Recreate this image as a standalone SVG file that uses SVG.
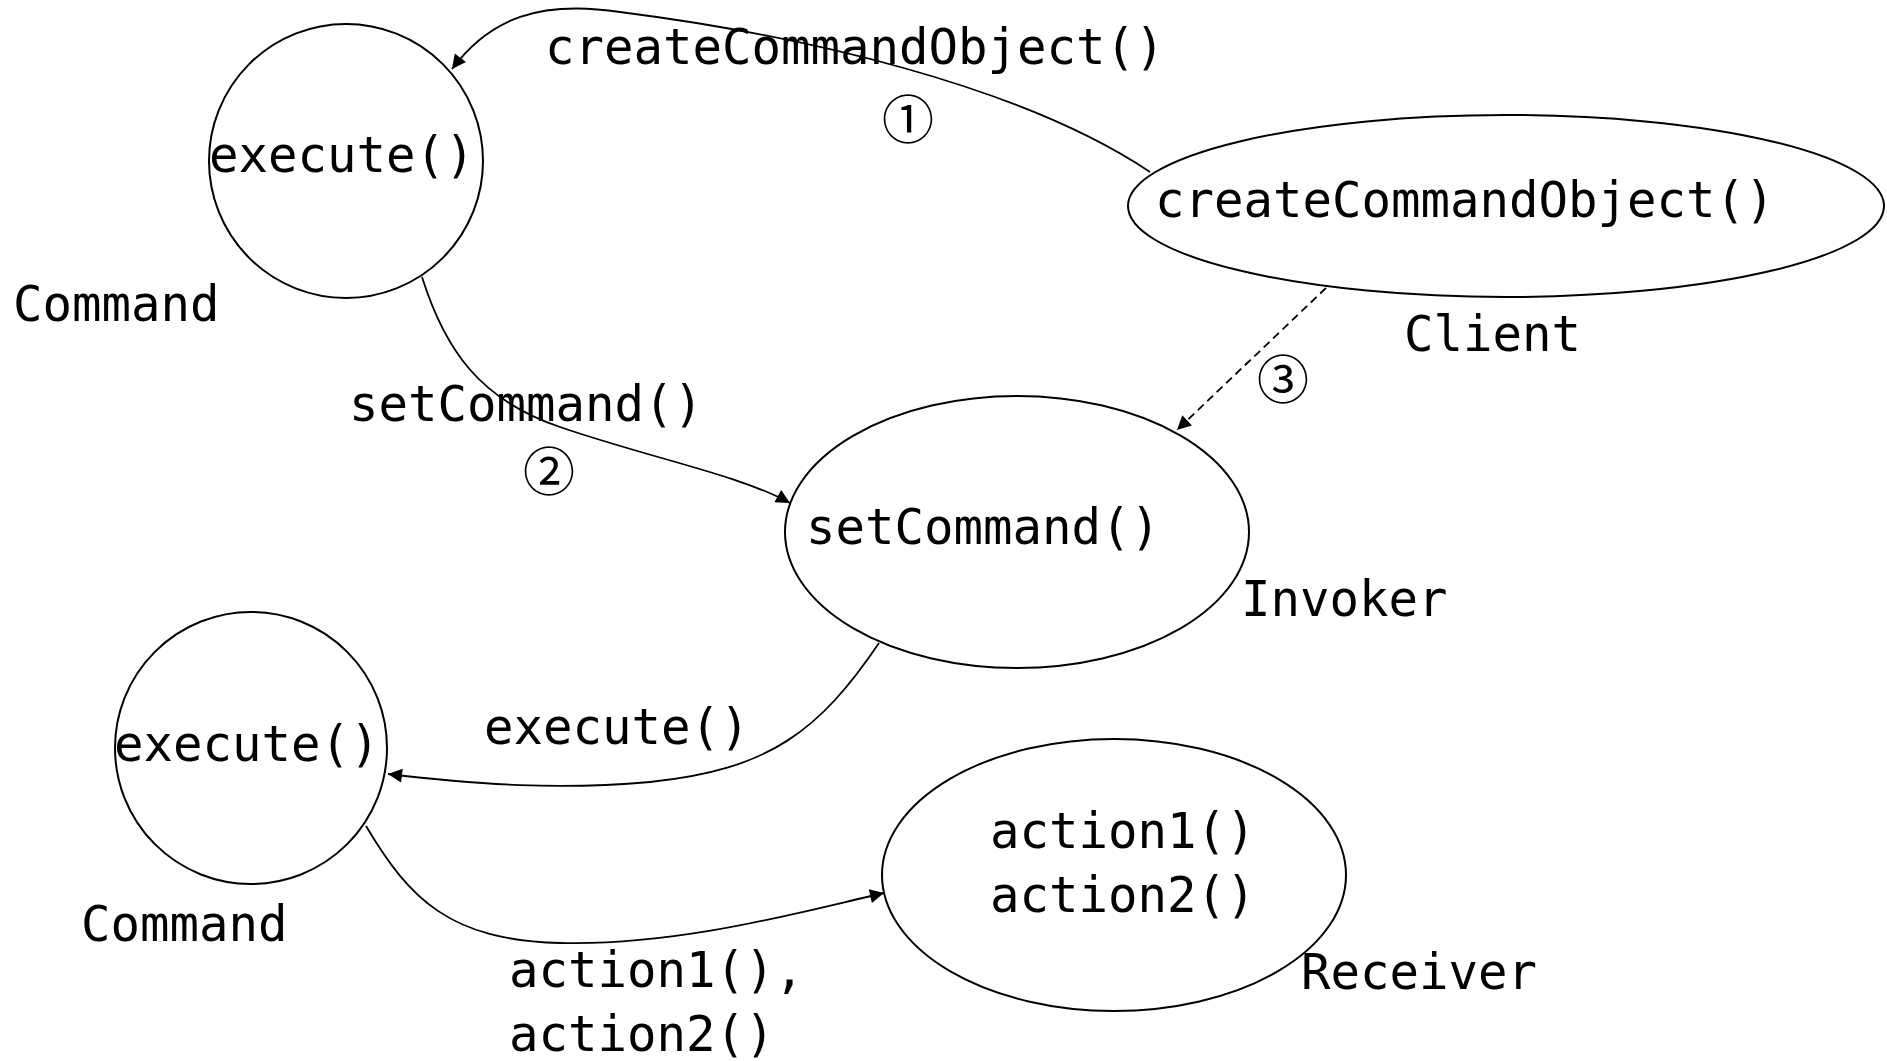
<svg xmlns="http://www.w3.org/2000/svg" width="1887" height="1061" viewBox="0 0 1887 1061">
<style>
.node{fill:#fff;stroke:#000;stroke-width:2}
.t{font-family:"DejaVu Sans Mono","Liberation Mono",monospace;font-size:49px;fill:#000}
.n{font-family:"Noto Sans CJK SC",sans-serif;font-size:52px;fill:#000;text-anchor:middle;dominant-baseline:central}
.c{fill:none;stroke:#000;stroke-width:1.8}
.d{fill:none;stroke:#000;stroke-width:1.8;stroke-dasharray:8 5}
</style>
<defs>
<marker id="ahb" viewBox="0 0 10 10" refX="10" refY="5" markerWidth="16" markerHeight="14" markerUnits="userSpaceOnUse" orient="auto"><path d="M0,0 L10,5 L0,10 z" fill="#000"/></marker>
</defs>
<g id="command1">
<circle class="node" cx="346" cy="161" r="137"/>
<text class="t" x="209" y="172">execute()</text>
<text class="t" x="13" y="321">Command</text>
</g>
<g id="client">
<ellipse class="node" cx="1506" cy="206" rx="378" ry="91"/>
<text class="t" x="1155" y="217">createCommandObject()</text>
<text class="t" x="1404" y="351">Client</text>
</g>
<g id="invoker">
<ellipse class="node" cx="1017" cy="532" rx="232" ry="136"/>
<text class="t" x="806" y="544">setCommand()</text>
<text class="t" x="1241" y="616">Invoker</text>
</g>
<g id="command2">
<circle class="node" cx="251" cy="748" r="136"/>
<text class="t" x="114" y="761">execute()</text>
<text class="t" x="81" y="941">Command</text>
</g>
<g id="receiver">
<ellipse class="node" cx="1114" cy="875" rx="232" ry="136"/>
<text class="t" x="990" y="848">action1()</text>
<text class="t" x="990" y="912">action2()</text>
<text class="t" x="1301" y="989">Receiver</text>
</g>
<g id="connectors">
<path class="c" marker-end="url(#ahb)" d="M1150,172 C1020,85 800,35 620,12 C540,0 490,18 452,69"/>
<path class="c" marker-end="url(#ahb)" d="M422,277 C445,350 480,400 560,427 C650,458 740,475 790,503"/>
<path class="c" marker-end="url(#ahb)" d="M879,643 C820,730 770,770 650,782 C560,790 480,785 388,774"/>
<path class="c" marker-end="url(#ahb)" d="M366,826 C410,900 450,940 560,943 C680,946 800,912 884,893"/>
<path class="d" marker-end="url(#ahb)" d="M1326,288 L1177,430"/>
<text class="t" x="545" y="64">createCommandObject()</text>
<text class="n" x="908" y="116">①</text>
<text class="t" x="349" y="421">setCommand()</text>
<text class="n" x="549" y="468">②</text>
<text class="n" x="1283" y="376">③</text>
<text class="t" x="484" y="744">execute()</text>
<text class="t" x="509" y="987">action1(),</text>
<text class="t" x="509" y="1051">action2()</text>
</g>
</svg>
